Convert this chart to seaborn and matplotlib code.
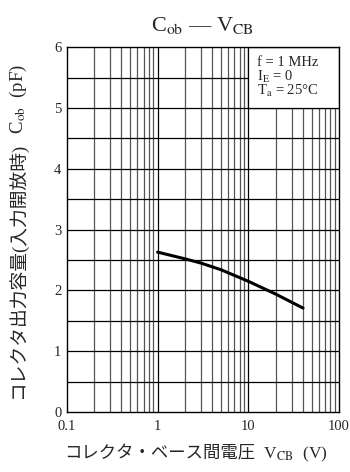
import numpy as np
import pandas as pd
import matplotlib
matplotlib.use("Agg")
import matplotlib.pyplot as plt
import matplotlib.ticker as mticker
import seaborn as sns
from matplotlib.patches import Rectangle

# Curve
vcb = [1, 2, 3, 5, 10, 20, 40]
cob = [2.63, 2.52, 2.45, 2.34, 2.15, 1.94, 1.71]

x_ticks = [0.1, 1, 10, 100]
x_tick_labels = ["0.1", "1", "10", "100"]
y_ticks = [0, 1, 2, 3, 4, 5, 6]

x_label_parts = ["コレクタ・ベース間電圧", r"  V$_\mathrm{CB}$  (V)"]
y_label_parts = ["コレクタ出力容量(入力開放時)", r"  C$_\mathrm{ob}$  (pF)"]
cond_lines = ["f = 1 MHz", r"I$_\mathrm{E}$ = 0", r"T$_\mathrm{a}$ = 25°C"]

sns.set_style("white")
plt.rcParams["font.family"] = ["Liberation Serif", "Noto Sans CJK JP"]
plt.rcParams["mathtext.fontset"] = "stix"

df = pd.DataFrame({"vcb": vcb, "cob": cob})

fig = plt.figure(figsize=(3.5, 4.72), dpi=100)
ax = fig.add_axes([0.191, 0.127, 0.778, 0.773])

ax.set_xscale("log")
ax.set_xlim(0.1, 100)
ax.set_ylim(0, 6)

# grid: black majors, grey minors
for v in [1, 10]:
    ax.axvline(v, color="black", lw=0.9, zorder=1)
for dec in [0.1, 1, 10]:
    for m in range(2, 10):
        ax.axvline(dec * m, color="#555555", lw=0.9, zorder=1)
for h in np.arange(0.5, 6.0, 0.5):
    ax.axhline(h, color="black", lw=0.9, zorder=1)

# condition box
ax.add_patch(Rectangle((10, 5), 90, 1, facecolor="white", edgecolor="black",
                       lw=0.9, zorder=2))
for i, s in enumerate(cond_lines):
    ax.text(12.5, 5.69 - 0.24 * i, s, fontsize=10.5, va="baseline", zorder=3)

sns.lineplot(data=df, x="vcb", y="cob", color="black", lw=2.2, ax=ax, zorder=4)

ax.set_xticks(x_ticks)
ax.set_xticklabels(x_tick_labels)
ax.xaxis.set_minor_locator(mticker.NullLocator())
ax.set_yticks(y_ticks)
ax.tick_params(axis="x", length=0, labelsize=10.5, pad=6)
ax.tick_params(axis="y", length=0, labelsize=10.5, pad=4)
ax.set_xlabel("")
ax.set_ylabel("")
for s in ax.spines.values():
    s.set_color("black")
    s.set_linewidth(1.0)
    s.set_zorder(5)

ax.set_title(r"C$_\mathrm{ob}$ — V$_\mathrm{CB}$", fontsize=16, pad=12)


# axis labels built from pieces so the Japanese text can use the CJK font
def chain(parts, x0, y0, rotation, size):
    renderer = fig.canvas.get_renderer()
    W, H = fig.bbox.width, fig.bbox.height
    x, y = x0, y0
    for p in parts:
        t = fig.text(x, y, p, fontsize=size, rotation=rotation,
                     rotation_mode="anchor", ha="left", va="baseline")
        bb = t.get_window_extent(renderer)
        if rotation == 0:
            x += bb.width / W
        else:
            y += bb.height / H


chain(x_label_parts, 64 / 350, 1 - 458 / 472, 0, 12.5)
chain(y_label_parts, 23 / 350, 1 - 399 / 472, 90, 13.5)

fig.savefig("out.png", dpi=100)
